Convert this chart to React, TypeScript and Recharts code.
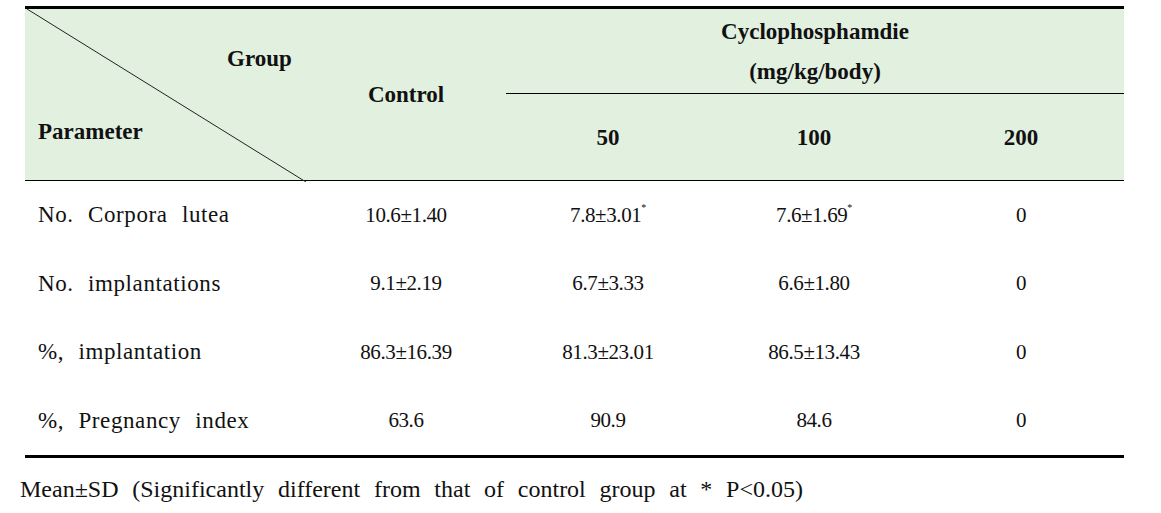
import React from 'react';
import { Surface } from 'recharts';

// table content
const parameters = ['No. Corpora lutea', 'No. implantations', '%, implantation', '%, Pregnancy index'];
const doseLabels = ['50', '100', '200'];
const controlValues = ['10.6±1.40', '9.1±2.19', '86.3±16.39', '63.6'];
const dose50Values = ['7.8±3.01', '6.7±3.33', '81.3±23.01', '90.9'];
const dose100Values = ['7.6±1.69', '6.6±1.80', '86.5±13.43', '84.6'];
const dose200Values = ['0', '0', '0', '0'];
const dose50Significant = [true, false, false, false];
const dose100Significant = [true, false, false, false];
const footnote = 'Mean±SD (Significantly different from that of control group at * P<0.05)';

const HEADER_BG = '#E2F0E0';
const colWidths = [281, 200, 204, 208, 206];
const SERIF = 'Liberation Serif';

export default function App() {
  const doseColumns = [dose50Values, dose100Values, dose200Values];
  const doseFlags = [dose50Significant, dose100Significant, dose200Values.map(() => false)];

  const headCell: React.CSSProperties = {
    padding: 0,
    fontFamily: SERIF,
    fontWeight: 'bold',
    fontSize: 23,
    color: '#111',
    textAlign: 'center',
    verticalAlign: 'middle',
  };
  const bodyCell: React.CSSProperties = {
    padding: 0,
    height: 68.5,
    fontFamily: SERIF,
    fontSize: 21,
    color: '#111',
    textAlign: 'center',
    verticalAlign: 'middle',
    letterSpacing: -0.4,
  };

  return (
    <div style={{ position: 'absolute', left: 0, top: 0, width: 1161, height: 513, background: '#fff', fontFamily: SERIF }}>
      <table
        style={{
          position: 'absolute',
          left: 25,
          top: 6,
          width: colWidths.reduce((a, b) => a + b, 0),
          borderCollapse: 'collapse',
          tableLayout: 'fixed',
          borderTop: '3px solid #000',
          borderBottom: '3px solid #000',
        }}
      >
        <colgroup>
          {colWidths.map((w, i) => (
            <col key={i} style={{ width: w }} />
          ))}
        </colgroup>
        <thead>
          <tr style={{ background: HEADER_BG, height: 86 }}>
            <td rowSpan={2} style={{ ...headCell, position: 'relative', textAlign: 'left', borderBottom: '1px solid #000' }}>
              <div style={{ position: 'absolute', left: 0, top: 0 }}>
                <Surface width={281} height={173}>
                  <line x1={2} y1={0} x2={281} y2={173} stroke="#222" strokeWidth={1} />
                </Surface>
              </div>
              <div style={{ position: 'absolute', left: 202, top: 37 }}>Group</div>
              <div style={{ position: 'absolute', left: 13, top: 110 }}>Parameter</div>
            </td>
            <td rowSpan={2} style={{ ...headCell, verticalAlign: 'top', paddingTop: 73, borderBottom: '1px solid #000' }}>
              Control
            </td>
            <td colSpan={3} style={{ ...headCell, borderBottom: '1px solid #000', lineHeight: '40px', paddingTop: 1 }}>
              Cyclophosphamdie
              <br />
              (mg/kg/body)
            </td>
          </tr>
          <tr style={{ background: HEADER_BG, height: 87 }}>
            {doseLabels.map((d) => (
              <td key={d} style={{ ...headCell, borderBottom: '1px solid #000', paddingTop: 2 }}>
                {d}
              </td>
            ))}
          </tr>
        </thead>
        <tbody>
          {parameters.map((p, r) => (
            <tr key={p}>
              <td style={{ ...bodyCell, textAlign: 'left', paddingLeft: 13, fontSize: 23, letterSpacing: 0.6, wordSpacing: 8 }}>{p}</td>
              <td style={bodyCell}>{controlValues[r]}</td>
              {doseColumns.map((col, c) => (
                <td key={c} style={bodyCell}>
                  {col[r]}
                  {doseFlags[c][r] && (
                    <sup style={{ fontSize: 10, position: 'relative', top: -3 }}>*</sup>
                  )}
                </td>
              ))}
            </tr>
          ))}
        </tbody>
      </table>
      <div
        style={{
          position: 'absolute',
          left: 20,
          top: 476,
          width: 783,
          fontFamily: SERIF,
          fontSize: 24,
          color: '#111',
          textAlign: 'justify',
          textAlignLast: 'justify',
          whiteSpace: 'normal',
        }}
      >
        {footnote}
      </div>
    </div>
  );
}
